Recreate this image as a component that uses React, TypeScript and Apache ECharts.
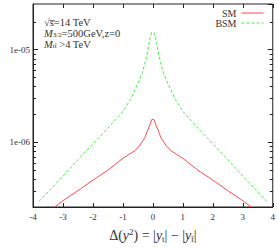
import React, { useEffect, useRef } from "react";
import * as echarts from "echarts";

const FONT = "'Liberation Serif', 'DejaVu Serif', serif";

// BSM (green dashed)
const bsmX = [-3.8, -3.5, -3, -2.5, -2, -1.5, -1, -0.75, -0.5, -0.35, -0.2, -0.1, -0.04, 0, 0.04, 0.1, 0.2, 0.35, 0.5, 0.75, 1, 1.5, 2, 2.5, 3, 3.5, 3.8];
const bsmY = [2.3e-7, 2.9e-7, 4.3e-7, 6.5e-7, 9.6e-7, 1.42e-6, 2.15e-6, 2.9e-6, 4.3e-6, 5.6e-6, 8.6e-6, 1.3e-5, 1.52e-5, 1.54e-5, 1.52e-5, 1.3e-5, 8.6e-6, 5.6e-6, 4.3e-6, 2.9e-6, 2.15e-6, 1.42e-6, 9.6e-7, 6.5e-7, 4.3e-7, 2.9e-7, 2.3e-7];

// SM (red solid)
const smX = [-3.3, -3, -2.5, -2, -1.5, -1, -0.6, -0.43, -0.27, -0.16, -0.08, -0.04, 0, 0.04, 0.08, 0.16, 0.27, 0.43, 0.6, 1, 1.5, 2, 2.5, 3, 3.3];
const smY = [1.98e-7, 2.34e-7, 3.0e-7, 3.9e-7, 5.0e-7, 6.7e-7, 8.1e-7, 9.3e-7, 1.12e-6, 1.38e-6, 1.6e-6, 1.75e-6, 1.77e-6, 1.75e-6, 1.6e-6, 1.38e-6, 1.12e-6, 9.3e-7, 8.1e-7, 6.7e-7, 5.0e-7, 3.9e-7, 3.0e-7, 2.34e-7, 1.98e-7];

const minorTicks = [3e-7, 4e-7, 5e-7, 6e-7, 7e-7, 8e-7, 9e-7, 2e-6, 3e-6, 4e-6, 5e-6, 6e-6, 7e-6, 8e-6, 9e-6, 2e-5];

const X_MIN = -4;
const X_MAX = 4;
const Y_MIN = 2e-7;
const Y_MAX = 3.1e-5;

const AXIS_COLOR = "#222";
const TEXT_COLOR = "#333";
const SM_COLOR = "#ff4a4a";
const BSM_COLOR = "#44ee44";

export default function App() {
  const ref = useRef<HTMLDivElement>(null);
  useEffect(() => {
    if (!ref.current) return;
    const chart = echarts.init(ref.current, null, { renderer: "svg" });
    const yLabel = (v: number) => {
      const e = Math.log10(v);
      if (Math.abs(e - Math.round(e)) > 1e-6) return "";
      const n = Math.round(e);
      return "1e-" + String(-n).padStart(2, "0");
    };
    const subRich = {
      i: { fontFamily: FONT, fontSize: 10.5, fontStyle: "italic", color: TEXT_COLOR, lineHeight: 11 },
      sub: { fontFamily: FONT, fontSize: 7, color: TEXT_COLOR, lineHeight: 7, verticalAlign: "bottom" },
    };
    chart.setOption({
      animation: false,
      grid: { left: 33, right: 5, top: 4, bottom: 29, show: true, borderColor: AXIS_COLOR, borderWidth: 1 },
      legend: {
        data: [
          { name: "SM", itemStyle: { opacity: 0 }, lineStyle: { color: SM_COLOR, width: 1 } },
          { name: "BSM", itemStyle: { opacity: 0 }, lineStyle: { color: BSM_COLOR, width: 1, type: [3, 2] } },
        ],
        orient: "vertical",
        right: 14,
        top: 8,
        align: "right",
        itemWidth: 22,
        itemHeight: 8,
        itemGap: 0,
        padding: 0,
        itemStyle: { opacity: 0 },
        textStyle: { fontFamily: FONT, fontSize: 10, color: TEXT_COLOR, lineHeight: 8 },
      },
      xAxis: [
        {
          type: "value",
          min: X_MIN,
          max: X_MAX,
          interval: 1,
          axisLine: { show: true, onZero: false, lineStyle: { color: AXIS_COLOR } },
          axisTick: { inside: true, length: 4, lineStyle: { color: AXIS_COLOR } },
          splitLine: { show: false },
          axisLabel: { fontFamily: FONT, fontSize: 9, color: TEXT_COLOR, margin: 5 },
          name: "Δ({i|y}{sup|2}) = |{i|y}{sub|t}| − |{i|y}{sub|t̄}|",
          nameLocation: "middle",
          nameGap: 20,
          nameTextStyle: {
            fontFamily: FONT,
            fontSize: 14,
            color: TEXT_COLOR,
            lineHeight: 16,
            rich: {
              i: { fontFamily: FONT, fontSize: 14, fontStyle: "italic", color: TEXT_COLOR, lineHeight: 16 },
              sup: { fontFamily: FONT, fontSize: 9, color: TEXT_COLOR, lineHeight: 9, verticalAlign: "top" },
              sub: { fontFamily: FONT, fontSize: 9, color: TEXT_COLOR, lineHeight: 9, verticalAlign: "bottom" },
            },
          },
        },
        {
          type: "value",
          position: "top",
          min: X_MIN,
          max: X_MAX,
          interval: 1,
          axisLine: { show: false, onZero: false },
          axisTick: { show: true, inside: true, length: 4, lineStyle: { color: AXIS_COLOR } },
          axisLabel: { show: false },
          splitLine: { show: false },
        },
      ],
      yAxis: [
        {
          type: "log",
          logBase: 10,
          min: Y_MIN,
          max: Y_MAX,
          axisLine: { show: true, onZero: false, lineStyle: { color: AXIS_COLOR } },
          axisTick: { inside: true, length: 5, lineStyle: { color: AXIS_COLOR } },
          splitLine: { show: false },
          axisLabel: { fontFamily: FONT, fontSize: 9, color: TEXT_COLOR, margin: 3, formatter: yLabel, showMinLabel: false, showMaxLabel: false },
        },
        {
          type: "log",
          logBase: 10,
          position: "right",
          min: Y_MIN,
          max: Y_MAX,
          axisLine: { show: false, onZero: false },
          axisTick: { inside: true, length: 5, lineStyle: { color: AXIS_COLOR } },
          splitLine: { show: false },
          axisLabel: { show: false },
        },
      ],
      graphic: [
        {
          type: "text",
          left: 44,
          top: 17,
          style: {
            text: "√s̅=14 TeV\n{i|M}{sub|3/2}=500GeV,z=0\n{i|M}{sub|tt̄} >4 TeV",
            fontFamily: FONT,
            fontSize: 10.5,
            lineHeight: 10,
            fill: TEXT_COLOR,
            rich: subRich,
          },
        },
      ],
      series: [
        {
          name: "SM",
          type: "line",
          data: smX.map((x, k) => [x, smY[k]]),
          showSymbol: false,
          symbol: "none",
          smooth: false,
          clip: true,
          lineStyle: { color: SM_COLOR, width: 1 },
          itemStyle: { color: SM_COLOR },
        },
        {
          name: "BSM",
          type: "line",
          data: bsmX.map((x, k) => [x, bsmY[k]]),
          showSymbol: false,
          symbol: "none",
          smooth: false,
          clip: true,
          lineStyle: { color: BSM_COLOR, width: 1, type: [3, 2] },
          itemStyle: { color: BSM_COLOR },
        },
        {
          name: "minor",
          type: "custom",
          xAxisIndex: 0,
          yAxisIndex: 0,
          silent: true,
          clip: false,
          data: minorTicks.map((v) => [X_MIN, v]),
          renderItem: (params: any, api: any) => {
            const v = api.value(1);
            const l = api.coord([X_MIN, v]);
            const r = api.coord([X_MAX, v]);
            const y = Math.round(l[1]) + 0.5;
            return {
              type: "group",
              children: [
                { type: "line", shape: { x1: l[0], y1: y, x2: l[0] + 3, y2: y }, style: { stroke: AXIS_COLOR, lineWidth: 1 } },
                { type: "line", shape: { x1: r[0] - 3, y1: y, x2: r[0], y2: y }, style: { stroke: AXIS_COLOR, lineWidth: 1 } },
              ],
            };
          },
        },
      ],
    });
    return () => chart.dispose();
  }, []);
  return <div ref={ref} style={{ width: 278, height: 248, position: "absolute", left: 0, top: 0 }} />;
}
